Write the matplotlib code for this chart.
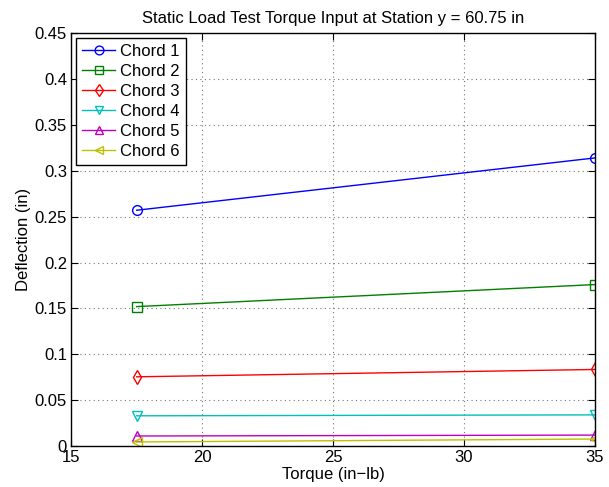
import matplotlib
matplotlib.use('Agg')
import matplotlib.pyplot as plt

plt.rcParams['font.family'] = ['Liberation Sans', 'DejaVu Sans']

torque = [17.5, 35]
chord1 = [0.257, 0.314]
chord2 = [0.152, 0.176]
chord3 = [0.0755, 0.0835]
chord4 = [0.0330, 0.0340]
chord5 = [0.0110, 0.0120]
chord6 = [0.0045, 0.0077]
names = ['Chord 1', 'Chord 2', 'Chord 3', 'Chord 4', 'Chord 5', 'Chord 6']
colors = ['#0000ff', '#008000', '#ff0000', '#00bfbf', '#bf00bf', '#bfbf00']
markers = ['o', 's', 'd', 'v', '^', '<']

fig = plt.figure(figsize=(6.09, 4.87), dpi=100)
ax = fig.add_axes([0.117, 0.084, 0.860, 0.848])

series = [chord1, chord2, chord3, chord4, chord5, chord6]
for vals, name, c, m in zip(series, names, colors, markers):
    ax.plot(torque, vals, color=c, marker=m, markerfacecolor='none',
            markeredgecolor=c, markersize=7, linewidth=1.0, label=name)

ax.set_xlim(15, 35)
ax.set_ylim(0, 0.45)
ax.set_xticks([15, 20, 25, 30, 35])
ax.set_yticks([0, 0.05, 0.1, 0.15, 0.2, 0.25, 0.3, 0.35, 0.4, 0.45])
ax.set_yticklabels(['0', '0.05', '0.1', '0.15', '0.2', '0.25', '0.3', '0.35', '0.4', '0.45'])
ax.tick_params(direction='in', top=True, right=True, labelsize=12, length=5,
               width=0.8, pad=3)
ax.grid(True, linestyle=(0, (1, 3)), color='#777777', linewidth=0.8)
for s in ax.spines.values():
    s.set_linewidth(1.0)

ax.set_xlabel('Torque (in\u2212lb)', fontsize=12, labelpad=1)
ax.set_ylabel('Deflection (in)', fontsize=12, labelpad=3)
ax.set_title('Static Load Test Torque Input at Station y = 60.75 in', fontsize=12, pad=7)

leg = ax.legend(loc='upper left', fontsize=12, fancybox=False, framealpha=1,
                edgecolor='black', borderaxespad=0.3, handlelength=2.0,
                labelspacing=0.3, borderpad=0.35, handletextpad=0.3,
                markerscale=0.9)
leg.get_frame().set_linewidth(1.0)

fig.savefig('out.png', dpi=100)
